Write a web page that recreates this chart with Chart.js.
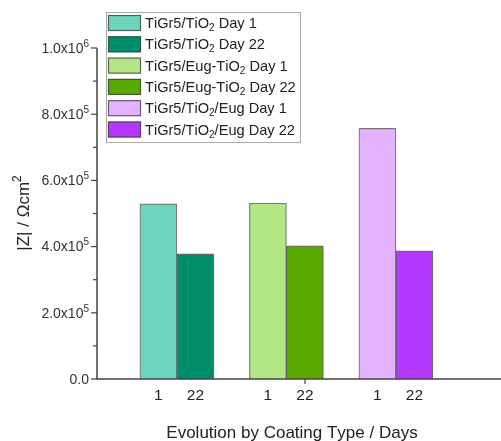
<!DOCTYPE html>
<html>
<head>
<meta charset="utf-8">
<script src="https://cdn.jsdelivr.net/npm/chart.js@4"></script>
<style>
    html, body { margin: 0; padding: 0; background: #fff; }
    #wrap { width: 501px; height: 441px; }
</style>
</head>
<body>
<div id="wrap"><canvas id="chart" width="501" height="441"></canvas></div>
<script>
// ============================
// Data
// ============================

// "_2" marks a subscript, "^6" a superscript
const groups = ['TiGr5/TiO_2', 'TiGr5/Eug-TiO_2', 'TiGr5/TiO_2/Eug'];
const days = ['1', '22'];
const day1Values = [529000, 531000, 757000];
const day22Values = [378000, 402000, 387000];
const yTicks = [0, 200000, 400000, 600000, 800000, 1000000];
const yTickLabels = ['0.0', '2.0x10^5', '4.0x10^5', '6.0x10^5', '8.0x10^5', '1.0x10^6'];
const yTitle = '|Z| / Ωcm^2';
const xTitle = 'Evolution by Coating Type / Days';

const day1Colors = ['#6dd5bd', '#b3e685', '#e5b2ff'];
const day22Colors = ['#008d6d', '#59a800', '#b337ff'];
const FONT = '"Liberation Sans", Arial, sans-serif';

// draw text with _x subscripts and ^x superscripts
function richText(ctx, text, x, y, size, align) {
    const parts = [];
    for (let i = 0; i < text.length; i++) {
        const c = text[i];
        if ((c === '_' || c === '^') && i + 1 < text.length) {
            parts.push({ t: text[i + 1], mode: c });
            i++;
        } else {
            parts.push({ t: c, mode: '' });
        }
    }
    const small = Math.round(size * 0.68);
    let width = 0;
    parts.forEach(p => {
        ctx.font = (p.mode ? small : size) + 'px ' + FONT;
        p.w = ctx.measureText(p.t).width;
        width += p.w;
    });
    let cx = align === 'right' ? x - width : align === 'center' ? x - width / 2 : x;
    ctx.textBaseline = 'middle';
    ctx.textAlign = 'left';
    parts.forEach(p => {
        ctx.font = (p.mode ? small : size) + 'px ' + FONT;
        let dy = 0;
        if (p.mode === '_') dy = size * 0.3;
        if (p.mode === '^') dy = -size * 0.35;
        ctx.fillText(p.t, cx, y + dy);
        cx += p.w;
    });
}

const decorations = {
    id: 'decorations',
    afterDraw(chart) {
        const ctx = chart.ctx;
        const area = chart.chartArea;
        const yScale = chart.scales.y;
        ctx.save();
        ctx.strokeStyle = '#444';
        ctx.fillStyle = '#333';
        ctx.lineWidth = 1.5;

        // axes lines
        ctx.beginPath();
        ctx.moveTo(area.left, area.top);
        ctx.lineTo(area.left, area.bottom);
        ctx.lineTo(chart.width, area.bottom);
        ctx.stroke();

        // y ticks (major + minor), one x tick mid-axis
        ctx.lineWidth = 1.2;
        for (let v = 0; v <= 1000000; v += 100000) {
            const py = yScale.getPixelForValue(v);
            const major = v % 200000 === 0;
            ctx.beginPath();
            ctx.moveTo(area.left, py);
            ctx.lineTo(area.left - (major ? 6 : 4), py);
            ctx.stroke();
        }
        const midX = chart.scales.x.getPixelForValue(2.17);
        ctx.beginPath();
        ctx.moveTo(midX, area.bottom);
        ctx.lineTo(midX, area.bottom + 5);
        ctx.stroke();

        yTicks.forEach((v, i) => {
            richText(ctx, yTickLabels[i], area.left - 8, yScale.getPixelForValue(v) + 1, 14, 'right');
        });

        // day labels under each bar
        ctx.fillStyle = '#222';
        chart.data.datasets.forEach((ds, d) => {
            chart.getDatasetMeta(d).data.forEach(bar => {
                richText(ctx, days[d], bar.x, area.bottom + 17, 15.5, 'center');
            });
        });

        // axis titles
        richText(ctx, xTitle, 292, 433, 17, 'center');
        ctx.save();
        ctx.translate(24, 213);
        ctx.rotate(-Math.PI / 2);
        richText(ctx, yTitle, 0, 0, 17, 'center');
        ctx.restore();

        // legend
        const lx = 106, ly = 12, lw = 194, lh = 130, row = 21.3;
        ctx.fillStyle = '#fff';
        ctx.fillRect(lx, ly, lw, lh);
        ctx.strokeStyle = '#aaa';
        ctx.lineWidth = 1;
        ctx.strokeRect(lx + 0.5, ly + 0.5, lw, lh);
        let r = 0;
        groups.forEach((g, i) => {
            [day1Colors[i], day22Colors[i]].forEach((col, d) => {
                const cy = ly + 11 + r * row;
                ctx.fillStyle = col;
                ctx.fillRect(108, cy - 8, 33, 16);
                ctx.strokeStyle = 'rgba(60,60,60,0.75)';
                ctx.lineWidth = 1.2;
                ctx.strokeRect(108.5, cy - 7.5, 32, 15);
                ctx.fillStyle = '#222';
                richText(ctx, g + ' Day ' + days[d], 145, cy + 1, 14.6, 'left');
                r++;
            });
        });
        ctx.restore();
    }
};

new Chart(document.getElementById('chart'), {
    type: 'bar',
    data: {
        datasets: [
            {
                label: 'Day 1',
                data: groups.map((g, i) => ({ x: i + 1, y: day1Values[i] })),
                backgroundColor: day1Colors,
                borderColor: 'rgba(60,60,60,0.7)',
                borderWidth: 1.2
            },
            {
                label: 'Day 22',
                data: groups.map((g, i) => ({ x: i + 1, y: day22Values[i] })),
                backgroundColor: day22Colors,
                borderColor: 'rgba(40,40,40,0.7)',
                borderWidth: 1.2
            }
        ]
    },
    options: {
        responsive: false,
        animation: false,
        barThickness: 37,
        layout: {
            padding: { left: 97, right: 0, top: 48, bottom: 62 }
        },
        scales: {
            x: {
                type: 'linear',
                display: false,
                offset: false,
                min: 0.27,
                max: 3.96
            },
            y: {
                display: false,
                min: 0,
                max: 1000000
            }
        },
        plugins: {
            legend: { display: false },
            tooltip: { enabled: false }
        }
    },
    plugins: [decorations]
});
</script>
</body>
</html>
